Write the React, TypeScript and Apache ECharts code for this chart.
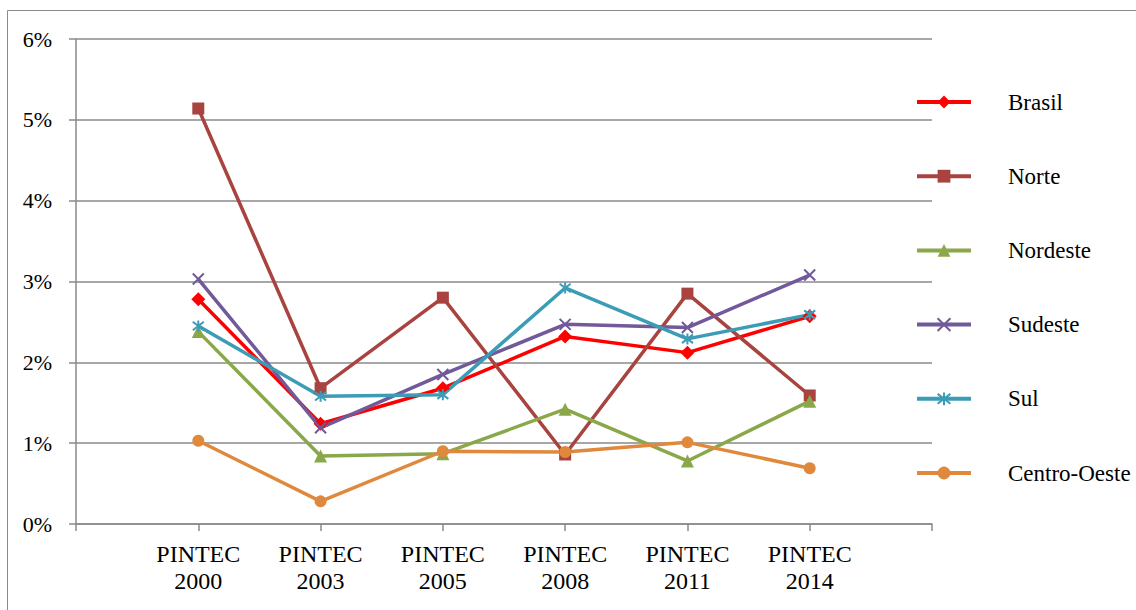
import React, { useEffect, useRef } from "react";
import * as echarts from "echarts";

// Survey editions (blank slots at each end leave a band of space on both sides)
const categories = ["", "PINTEC\n2000", "PINTEC\n2003", "PINTEC\n2005", "PINTEC\n2008", "PINTEC\n2011", "PINTEC\n2014", ""];

// Values in percent, one per edition (2000 … 2014)
const brasil = [2.78, 1.24, 1.68, 2.32, 2.12, 2.57];
const norte = [5.14, 1.68, 2.8, 0.86, 2.85, 1.59];
const nordeste = [2.38, 0.84, 0.87, 1.42, 0.78, 1.52];
const sudeste = [3.03, 1.19, 1.85, 2.47, 2.43, 3.08];
const sul = [2.45, 1.58, 1.6, 2.92, 2.29, 2.59];
const centroOeste = [1.03, 0.28, 0.9, 0.89, 1.01, 0.69];

const yTicks = [0, 1, 2, 3, 4, 5, 6];

const CROSS = "path://M0,0L10,10M10,0L0,10";
const ASTERISK = "path://M0,0L10,10M10,0L0,10M5,-1.5L5,11.5";

const pad = (vals: number[]) => [null, ...vals, null];

export default function App() {
  const ref = useRef<HTMLDivElement>(null);

  useEffect(() => {
    if (!ref.current) return;
    const chart = echarts.init(ref.current, undefined, { renderer: "svg" });
    const font = "'Liberation Serif', 'Times New Roman', serif";

    const mk = (name: string, data: number[], color: string, symbol: string, size: number, stroke = false) => ({
      name,
      type: "line",
      data: pad(data),
      symbol,
      symbolSize: size,
      showAllSymbol: true,
      connectNulls: false,
      lineStyle: { color, width: 3.5 },
      itemStyle: stroke
        ? { color, borderColor: color, borderWidth: 2 }
        : { color, borderWidth: 0 },
      emphasis: { disabled: true },
    });

    chart.setOption({
      animation: false,
      textStyle: { fontFamily: font },
      graphic: [
        {
          type: "rect",
          shape: { x: 7.5, y: 10.5, width: 1300, height: 800 },
          style: { fill: "none", stroke: "#8a8a8a", lineWidth: 1 },
          silent: true,
        },
      ],
      grid: { left: 76, right: 204, top: 39, bottom: 86, containLabel: false },
      legend: {
        orient: "vertical",
        left: 910,
        top: 85.5,
        itemWidth: 54,
        itemHeight: 16,
        itemGap: 51.2,
        lineStyle: { width: 4 },
        textStyle: { fontFamily: font, fontSize: 23, color: "#000", padding: [0, 0, 0, 32] },
        data: ["Brasil", "Norte", "Nordeste", "Sudeste", "Sul", "Centro-Oeste"],
      },
      xAxis: {
        type: "category",
        data: categories,
        boundaryGap: false,
        axisLine: { lineStyle: { color: "#8a8a8a", width: 1.5 } },
        axisTick: { show: true, length: 7, alignWithLabel: true, lineStyle: { color: "#8a8a8a", width: 1.5 } },
        axisLabel: {
          interval: 0,
          margin: 16,
          fontFamily: font,
          fontSize: 24,
          lineHeight: 27,
          color: "#000",
        },
        splitLine: { show: false },
      },
      yAxis: {
        type: "value",
        min: yTicks[0],
        max: yTicks[yTicks.length - 1],
        interval: 1,
        axisLine: { show: true, lineStyle: { color: "#8a8a8a", width: 1.5 } },
        axisTick: { show: true, length: 7, lineStyle: { color: "#8a8a8a", width: 1.5 } },
        axisLabel: {
          margin: 24,
          fontFamily: font,
          fontSize: 22,
          color: "#000",
          formatter: (v: number) => `${v}%`,
        },
        splitLine: { show: true, lineStyle: { color: "#8a8a8a", width: 1.5 } },
      },
      series: [
        mk("Brasil", brasil, "#ff0000", "diamond", 14),
        mk("Norte", norte, "#a8433f", "rect", 12),
        mk("Nordeste", nordeste, "#8aa84a", "triangle", 13),
        mk("Sudeste", sudeste, "#71599a", CROSS, 11, true),
        mk("Sul", sul, "#3c9cb6", ASTERISK, 11, true),
        mk("Centro-Oeste", centroOeste, "#e0883c", "circle", 12),
      ],
    });

    return () => chart.dispose();
  }, []);

  return (
    <div
      ref={ref}
      style={{ position: "fixed", left: 0, top: 0, width: 1136, height: 610, background: "#fff" }}
    />
  );
}
